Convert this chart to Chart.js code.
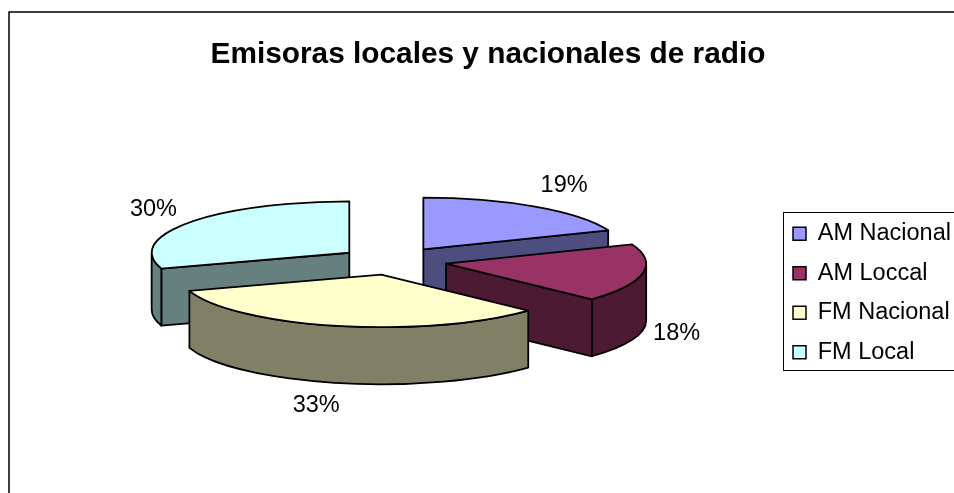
<!DOCTYPE html>
<html>
<head>
<meta charset="utf-8">
<script src="https://cdn.jsdelivr.net/npm/chart.js@4"></script>
<style>
    html, body { margin: 0; padding: 0; background: #fff; overflow: hidden; }
    canvas { display: block; }
</style>
</head>
<body>
<canvas id="radioChart" width="954" height="493"></canvas>
<script>
const chartTitle = 'Emisoras locales y nacionales de radio';
const categories = ['AM Nacional', 'AM Loccal', 'FM Nacional', 'FM Local'];
const shares = [19, 18, 33, 30];
const topColors = ['#9999FF', '#993366', '#FFFFCC', '#CCFFFF'];
const sideColors = ['#4D4D80', '#4D1A33', '#808066', '#668080'];

// Look of the tilted pie on the page
const pieCenterX = 393;
const pieCenterY = 261;
const tilt = 0.26;      // vertical squash of the pie
const depth = 57;       // height of the side walls
const labelNudge = [[29, -21], [34, 3], [-21, 23], [-36, -13]];
const fontName = '"Liberation Sans", Arial, sans-serif';

// Where an arc really ends up once Chart.js has applied its offset
function arcGeometry(arc) {
    const offset = (arc.options.offset || 0) / 4;
    const mid = (arc.startAngle + arc.endAngle) / 2;
    const fix = 1 - Math.sin(Math.min(Math.PI, arc.circumference));
    return {
        x: pieCenterX + Math.cos(mid) * offset,
        y: pieCenterY + Math.sin(mid) * offset * tilt,
        r: arc.outerRadius + offset * fix,
        mid: mid
    };
}

function paintFace(ctx, color) {
    ctx.fillStyle = color;
    ctx.fill();
    ctx.stroke();
}

const tiltedPie = {
    id: 'tiltedPie',
    afterLayout(chart) {
        // The legend box sits partly outside the page, as in the original
        chart.legend.left = 777;
        chart.legend.top = 206;
    },
    beforeDraw(chart) {
        const ctx = chart.ctx;
        ctx.save();
        ctx.fillStyle = '#fff';
        ctx.fillRect(0, 0, chart.width, chart.height);
        ctx.strokeStyle = '#000';
        ctx.lineWidth = 1.5;
        ctx.strokeRect(9, 12, chart.width, chart.height);
        ctx.lineWidth = 1;
        ctx.strokeRect(783.5, 212.5, chart.width, 158);
        ctx.restore();
    },
    beforeDatasetsDraw(chart) {
        const ctx = chart.ctx;
        const arcs = chart.getDatasetMeta(0).data;

        ctx.save();
        ctx.strokeStyle = '#000';
        ctx.lineWidth = 1.8;
        ctx.lineJoin = 'round';

        // Back slices first
        const order = arcs.map((arc, i) => i).sort((a, b) =>
            arcGeometry(arcs[a]).y - arcGeometry(arcs[b]).y);

        order.forEach((i) => {
            const arc = arcs[i];
            const g = arcGeometry(arc);
            const rimX = (a) => g.x + g.r * Math.cos(a);
            const rimY = (a) => g.y + g.r * tilt * Math.sin(a);

            // Cut faces that look towards the viewer
            [[arc.startAngle, -1], [arc.endAngle, 1]].forEach(([a, side]) => {
                if (Math.cos(a) * side > 1e-6) {
                    ctx.beginPath();
                    ctx.moveTo(g.x, g.y);
                    ctx.lineTo(rimX(a), rimY(a));
                    ctx.lineTo(rimX(a), rimY(a) + depth);
                    ctx.lineTo(g.x, g.y + depth);
                    ctx.closePath();
                    paintFace(ctx, sideColors[i]);
                }
            });

            // Outer wall, front half of the rim only
            const from = Math.max(arc.startAngle, 0);
            const to = Math.min(arc.endAngle, Math.PI);
            if (to > from) {
                ctx.beginPath();
                ctx.ellipse(g.x, g.y, g.r, g.r * tilt, 0, from, to);
                ctx.ellipse(g.x, g.y + depth, g.r, g.r * tilt, 0, to, from, true);
                ctx.closePath();
                paintFace(ctx, sideColors[i]);
            }
        });
        ctx.restore();

        // Chart.js paints the top faces under this squash
        ctx.save();
        ctx.translate(pieCenterX, pieCenterY);
        ctx.scale(1, tilt);
        ctx.translate(-arcs[0].x, -arcs[0].y);
    },
    afterDatasetsDraw(chart) {
        const ctx = chart.ctx;
        const arcs = chart.getDatasetMeta(0).data;
        ctx.restore();

        // Outlines after the squash, so the line width stays even
        ctx.save();
        ctx.strokeStyle = '#000';
        ctx.lineWidth = 1.8;
        ctx.lineJoin = 'round';
        arcs.forEach((arc) => {
            const g = arcGeometry(arc);
            ctx.beginPath();
            ctx.moveTo(g.x, g.y);
            ctx.ellipse(g.x, g.y, g.r, g.r * tilt, 0, arc.startAngle, arc.endAngle);
            ctx.closePath();
            ctx.stroke();
        });

        // Percent labels
        const total = shares.reduce((a, b) => a + b, 0);
        ctx.fillStyle = '#000';
        ctx.font = '23.5px ' + fontName;
        ctx.textAlign = 'center';
        ctx.textBaseline = 'middle';
        arcs.forEach((arc, i) => {
            const g = arcGeometry(arc);
            const front = Math.sin(g.mid) > 0 ? depth : 0;
            const x = g.x + g.r * Math.cos(g.mid) + labelNudge[i][0];
            const y = g.y + g.r * tilt * Math.sin(g.mid) + front + labelNudge[i][1];
            ctx.fillText(Math.round(shares[i] / total * 100) + '%', x, y);
        });
        ctx.restore();
    }
};

new Chart(document.getElementById('radioChart'), {
    type: 'pie',
    data: {
        labels: categories,
        datasets: [{
            data: shares,
            backgroundColor: topColors,
            borderWidth: 0,
            offset: 216,
            clip: false
        }]
    },
    options: {
        responsive: false,
        animation: false,
        events: [],
        radius: 195,
        layout: { padding: { left: 22, top: 37 } },
        plugins: {
            title: {
                display: true,
                text: chartTitle,
                color: '#000',
                font: { family: fontName, size: 29.8, weight: 'bold' },
                padding: { top: 0, bottom: 10 }
            },
            legend: {
                position: 'right',
                align: 'start',
                labels: {
                    color: '#000',
                    boxWidth: 13,
                    boxHeight: 13,
                    padding: 16,
                    font: { family: fontName, size: 23.5 },
                    generateLabels(chart) {
                        return Chart.overrides.pie.plugins.legend.labels.generateLabels(chart).map((item) => {
                            item.strokeStyle = '#000';
                            item.lineWidth = 1.5;
                            return item;
                        });
                    }
                }
            },
            tooltip: { enabled: false }
        }
    },
    plugins: [tiltedPie]
});
</script>
</body>
</html>
